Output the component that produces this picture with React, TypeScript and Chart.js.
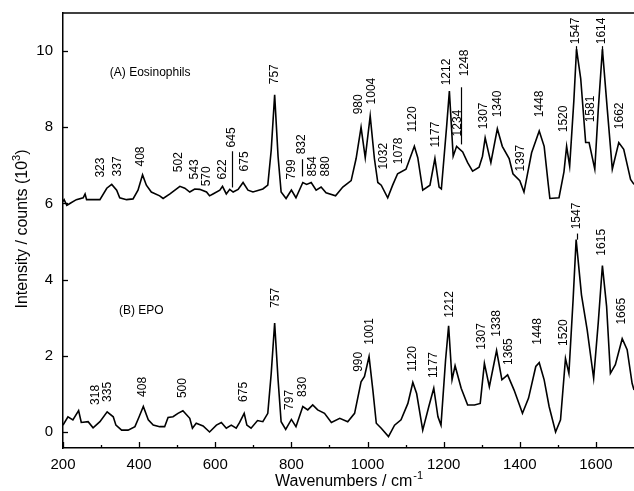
import React, { useEffect, useRef } from "react";
import { Chart, registerables } from "chart.js";

Chart.register(...registerables);

const FONT = '"Liberation Sans", Arial, Helvetica, sans-serif';

// (A) Eosinophils spectrum (wavenumber, intensity / 10^3 counts)
const eosWavenumbers = [
  200, 203, 210, 218, 235, 253, 258, 262, 279, 297, 315, 328, 341, 349, 367, 384, 397, 409, 419, 432,
  454, 463, 481, 507, 520, 533, 546, 559, 577, 585, 594, 612, 619, 629, 638, 647, 660, 673, 686, 699,
  725, 738, 747, 756, 765, 773, 786, 800, 812, 830, 840, 852, 865, 878, 891, 916, 935, 957, 970, 983,
  994, 1007, 1018, 1027, 1036, 1053, 1066, 1079, 1101, 1123, 1132, 1145, 1164, 1177, 1188, 1194, 1208, 1215, 1225, 1234,
  1250, 1263, 1276, 1293, 1302, 1309, 1324, 1341, 1354, 1372, 1382, 1400, 1411, 1431, 1451, 1464, 1475, 1479, 1503, 1516,
  1523, 1531, 1542, 1549, 1560, 1573, 1582, 1597, 1606, 1617, 1630, 1643, 1660, 1673, 1691, 1700,
];
const eosIntensity = [
  6.05, 6.1, 5.95, 6.0, 6.1, 6.15, 6.25, 6.1, 6.1, 6.1, 6.4, 6.5, 6.35, 6.15, 6.1, 6.12, 6.35, 6.75, 6.48, 6.3,
  6.2, 6.13, 6.25, 6.45, 6.4, 6.3, 6.38, 6.37, 6.3, 6.2, 6.25, 6.35, 6.45, 6.25, 6.37, 6.3, 6.37, 6.55, 6.35, 6.3,
  6.38, 6.48, 7.4, 8.85, 7.23, 6.3, 6.13, 6.35, 6.15, 6.55, 6.5, 6.55, 6.35, 6.43, 6.28, 6.2, 6.43, 6.6, 7.18, 8.0,
  7.2, 8.3, 7.18, 6.55, 6.48, 6.15, 6.48, 6.78, 6.9, 7.5, 7.2, 6.35, 6.48, 7.18, 6.43, 6.38, 8.05, 8.95, 7.24, 7.5,
  7.35, 7.07, 6.85, 6.95, 7.24, 7.72, 7.07, 7.96, 7.5, 7.18, 6.78, 6.6, 6.3, 7.33, 7.9, 7.5, 6.48, 6.13, 6.15, 6.83,
  7.5, 6.98, 8.7, 10.05, 9.28, 7.6, 7.6, 6.9, 8.45, 10.05, 8.45, 6.9, 7.6, 7.42, 6.63, 6.5,
];

// (B) EPO spectrum
const epoWavenumbers = [
  200, 213, 226, 241, 248, 266, 279, 297, 316, 332, 339, 354, 371, 389, 400, 411, 424, 437, 454, 467,
  476, 489, 502, 515, 533, 540, 550, 568, 585, 603, 616, 629, 642, 655, 664, 676, 683, 694, 711, 725,
  738, 747, 756, 765, 773, 785, 800, 812, 830, 843, 856, 869, 887, 905, 927, 948, 966, 983, 992, 1004,
  1014, 1023, 1036, 1055, 1071, 1088, 1106, 1119, 1129, 1145, 1161, 1174, 1185, 1193, 1205, 1213, 1222, 1230, 1246, 1263,
  1281, 1296, 1307, 1320, 1339, 1353, 1368, 1385, 1407, 1423, 1442, 1451, 1464, 1477, 1494, 1507, 1520, 1529, 1540, 1548,
  1562, 1577, 1594, 1606, 1617, 1628, 1638, 1651, 1669, 1682, 1695, 1700,
];
const epoIntensity = [
  0.18, 0.4, 0.32, 0.56, 0.25, 0.27, 0.11, 0.27, 0.53, 0.4, 0.18, 0.05, 0.05, 0.14, 0.4, 0.67, 0.32, 0.18, 0.14, 0.14,
  0.38, 0.4, 0.49, 0.56, 0.36, 0.1, 0.23, 0.16, 0.0, 0.18, 0.25, 0.1, 0.18, 0.1, 0.25, 0.49, 0.18, 0.1, 0.3, 0.27,
  0.49, 1.54, 2.86, 1.37, 0.27, 0.07, 0.33, 0.14, 0.67, 0.58, 0.71, 0.58, 0.49, 0.25, 0.36, 0.27, 0.49, 1.32, 1.46, 1.98,
  1.1, 0.23, 0.1, -0.12, 0.18, 0.32, 0.75, 1.3, 1.01, 0.05, 0.67, 1.15, 0.4, 0.18, 1.89, 2.79, 1.37, 1.74, 1.15, 0.71,
  0.71, 0.75, 1.8, 1.19, 2.14, 1.37, 1.5, 1.1, 0.49, 0.89, 1.72, 1.82, 1.37, 0.67, 0.0, 0.32, 1.93, 1.54, 3.47, 5.05,
  3.6, 2.68, 1.41, 2.86, 4.37, 3.3, 1.54, 1.77, 2.45, 2.16, 1.28, 1.1,
];

// Axis ticks
const xMajorTicks = [200, 400, 600, 800, 1000, 1200, 1400, 1600];
const xMinorTicks = [300, 500, 700, 900, 1100, 1300, 1500];
const yMajorTicks = [0, 2, 4, 6, 8, 10];

// Peak labels: text, anchor wavenumber, anchor intensity (bottom of text)
const eosPeakLabels = ["323", "337", "408", "502", "543", "570", "622", "645", "675", "757", "799", "832", "854", "880", "980", "1004", "1032", "1078", "1120", "1177", "1212", "1234", "1248", "1307", "1340", "1397", "1448", "1520", "1547", "1581", "1614", "1662"];
const eosPeakLabelX = [300, 344, 405, 504, 546, 578, 620, 643, 677, 756, 800, 827, 855, 890, 976, 1010, 1042, 1081, 1118, 1178, 1207, 1236, 1254, 1304, 1341, 1403, 1451, 1516, 1548, 1587, 1616, 1663];
const eosPeakLabelY = [6.68, 6.71, 6.97, 6.82, 6.63, 6.45, 6.63, 7.47, 6.84, 9.13, 6.63, 7.29, 6.71, 6.71, 8.34, 8.6, 6.89, 7.03, 7.87, 7.47, 9.1, 7.76, 9.34, 7.95, 8.26, 6.84, 8.26, 7.87, 10.18, 8.13, 10.18, 7.95];

const epoPeakLabels = ["318", "335", "408", "500", "675", "757", "797", "830", "990", "1001", "1120", "1177", "1212", "1307", "1338", "1365", "1448", "1520", "1547", "1615", "1665"];
const epoPeakLabelX = [287, 318, 410, 515, 675, 758, 795, 829, 976, 1005, 1118, 1173, 1215, 1301, 1338, 1372, 1448, 1516, 1550, 1616, 1668];
const epoPeakLabelY = [0.71, 0.79, 0.92, 0.89, 0.79, 3.26, 0.58, 0.92, 1.58, 2.29, 1.58, 1.42, 3.0, 2.16, 2.5, 1.76, 2.29, 2.26, 5.32, 4.63, 2.82];

// Leader lines under some labels: wavenumber, top intensity, bottom intensity
const leaderX = [643, 827, 1246, 1548, 1616, 1550];
const leaderTop = [7.37, 7.16, 9.05, 10.13, 10.13, 5.21];
const leaderBottom = [6.42, 6.71, 7.55, 9.95, 9.95, 5.05];

// Panel captions
const panelCaptions = ["(A) Eosinophils", "(B) EPO"];
const panelCaptionX = [323, 347];
const panelCaptionY = [9.42, 3.18];

const xTitle = "Wavenumbers / cm";
const xTitleSup = "-1";
const yTitle = "Intensity / counts (10";
const yTitleSup = "3";
const yTitleEnd = ")";

const annotatePlugin = {
  id: "annotate",
  afterDatasetsDraw(chart: any) {
    const { ctx, chartArea } = chart;
    const x = chart.scales.x;
    const y = chart.scales.y;
    ctx.save();
    ctx.fillStyle = "#000";
    ctx.strokeStyle = "#000";

    // peak labels
    ctx.font = `12px ${FONT}`;
    const drawLabels = (labels: string[], xs: number[], ys: number[]) => {
      labels.forEach((t, i) => {
        const px = x.getPixelForValue(xs[i]);
        const py = y.getPixelForValue(ys[i]);
        ctx.save();
        ctx.translate(px, py);
        ctx.rotate(-Math.PI / 2);
        ctx.textAlign = "left";
        ctx.textBaseline = "middle";
        ctx.fillText(t, 0, 0);
        ctx.restore();
      });
    };
    drawLabels(eosPeakLabels, eosPeakLabelX, eosPeakLabelY);
    drawLabels(epoPeakLabels, epoPeakLabelX, epoPeakLabelY);

    // leader lines
    ctx.lineWidth = 1.2;
    leaderX.forEach((wx, i) => {
      const px = Math.round(x.getPixelForValue(wx)) + 0.5;
      ctx.beginPath();
      ctx.moveTo(px, y.getPixelForValue(leaderTop[i]));
      ctx.lineTo(px, y.getPixelForValue(leaderBottom[i]));
      ctx.stroke();
    });

    // captions
    ctx.font = `12px ${FONT}`;
    ctx.textAlign = "left";
    ctx.textBaseline = "middle";
    panelCaptions.forEach((t, i) => {
      ctx.fillText(t, x.getPixelForValue(panelCaptionX[i]), y.getPixelForValue(panelCaptionY[i]));
    });

    // inward ticks
    ctx.lineWidth = 1.3;
    const bottom = chartArea.bottom;
    const left = chartArea.left;
    xMajorTicks.forEach((v) => {
      const px = Math.round(x.getPixelForValue(v)) + 0.5;
      ctx.beginPath();
      ctx.moveTo(px, bottom);
      ctx.lineTo(px, bottom - 6);
      ctx.stroke();
    });
    xMinorTicks.forEach((v) => {
      const px = Math.round(x.getPixelForValue(v)) + 0.5;
      ctx.beginPath();
      ctx.moveTo(px, bottom);
      ctx.lineTo(px, bottom - 3);
      ctx.stroke();
    });
    yMajorTicks.forEach((v) => {
      const py = Math.round(y.getPixelForValue(v)) + 0.5;
      ctx.beginPath();
      ctx.moveTo(left, py);
      ctx.lineTo(left + 5, py);
      ctx.stroke();
    });

    // top frame line
    ctx.lineWidth = 1.5;
    ctx.beginPath();
    ctx.moveTo(chartArea.left, chartArea.top);
    ctx.lineTo(chartArea.right, chartArea.top);
    ctx.stroke();
    ctx.restore();
  },
  afterDraw(chart: any) {
    const { ctx, chartArea } = chart;
    ctx.save();
    ctx.fillStyle = "#000";
    // x title
    const mainFont = `16px ${FONT}`;
    const supFont = `11px ${FONT}`;
    ctx.font = mainFont;
    const w1 = ctx.measureText(xTitle).width;
    ctx.font = supFont;
    const w2 = ctx.measureText(xTitleSup).width;
    const cx = (chartArea.left + chartArea.right) / 2;
    const startX = cx - (w1 + w2) / 2;
    const baseY = 486;
    ctx.textAlign = "left";
    ctx.textBaseline = "alphabetic";
    ctx.font = mainFont;
    ctx.fillText(xTitle, startX, baseY);
    ctx.font = supFont;
    ctx.fillText(xTitleSup, startX + w1 + 1, baseY - 7);

    // y title
    ctx.font = mainFont;
    const a = ctx.measureText(yTitle).width;
    const c = ctx.measureText(yTitleEnd).width;
    ctx.font = supFont;
    const b = ctx.measureText(yTitleSup).width;
    const total = a + b + c;
    ctx.translate(27, 229);
    ctx.rotate(-Math.PI / 2);
    const s = -total / 2;
    ctx.font = mainFont;
    ctx.fillText(yTitle, s, 0);
    ctx.font = supFont;
    ctx.fillText(yTitleSup, s + a, -7);
    ctx.font = mainFont;
    ctx.fillText(yTitleEnd, s + a + b, 0);
    ctx.restore();
  },
};

export default function App() {
  const canvasRef = useRef<HTMLCanvasElement | null>(null);

  useEffect(() => {
    if (!canvasRef.current) return;
    const toPoints = (xs: number[], ys: number[]) => xs.map((v, i) => ({ x: v, y: ys[i] }));
    const chart = new Chart(canvasRef.current, {
      type: "line",
      data: {
        datasets: [
          {
            label: "(A) Eosinophils",
            data: toPoints(eosWavenumbers, eosIntensity),
            borderColor: "#000",
            borderWidth: 1.6,
            pointRadius: 0,
            tension: 0,
            fill: false,
          },
          {
            label: "(B) EPO",
            data: toPoints(epoWavenumbers, epoIntensity),
            borderColor: "#000",
            borderWidth: 1.6,
            pointRadius: 0,
            tension: 0,
            fill: false,
          },
        ],
      },
      options: {
        animation: false,
        responsive: false,
        parsing: false,
        layout: { padding: { top: 13, right: 0, left: 0, bottom: 0 } },
        plugins: { legend: { display: false }, tooltip: { enabled: false }, title: { display: false } },
        scales: {
          x: {
            type: "linear",
            min: 200,
            max: 1700,
            grid: { display: false, drawTicks: false, tickLength: 0 },
            border: { display: true, color: "#000", width: 1.5 },
            ticks: {
              stepSize: 200,
              includeBounds: false,
              padding: 8,
              color: "#000",
              font: { family: FONT, size: 15 },
              maxRotation: 0,
              autoSkip: false,
              callback: (v: any) => String(v),
            },
            afterFit: (s: any) => {
              s.height = 43;
              s.paddingLeft = 0;
              s.paddingRight = 0;
            },
          },
          y: {
            type: "linear",
            min: -0.42,
            max: 11.0,
            grid: { display: false, drawTicks: false, tickLength: 0 },
            border: { display: true, color: "#000", width: 1.5 },
            ticks: {
              stepSize: 2,
              includeBounds: false,
              padding: 10,
              color: "#000",
              font: { family: FONT, size: 15 },
              callback: (v: any) => String(v),
            },
            afterFit: (s: any) => {
              s.width = 63;
              s.paddingTop = 0;
              s.paddingBottom = 0;
            },
          },
        },
      },
      plugins: [annotatePlugin],
    });
    return () => chart.destroy();
  }, []);

  return (
    <div style={{ position: "absolute", left: 0, top: 0, width: 634, height: 491, background: "#fff" }}>
      <canvas ref={canvasRef} width={634} height={491} style={{ display: "block" }} />
    </div>
  );
}
